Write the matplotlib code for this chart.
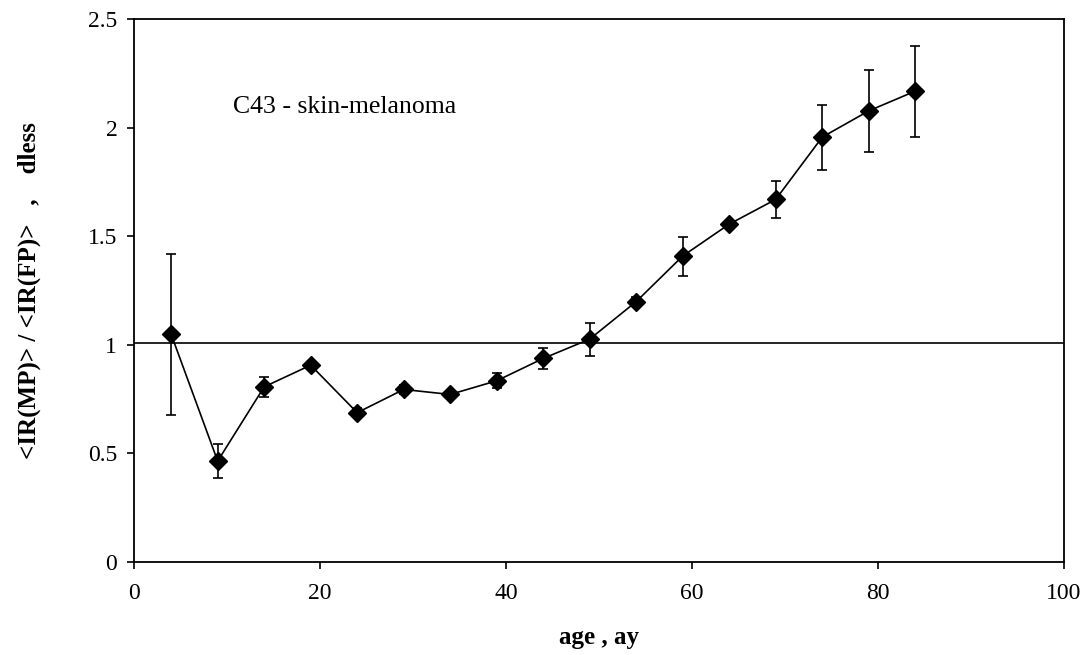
import matplotlib
matplotlib.use("Agg")
import matplotlib.pyplot as plt

# data
age = [4, 9, 14, 19, 24, 29, 34, 39, 44, 49, 54, 59, 64, 69, 74, 79, 84]
ratio = [1.048, 0.464, 0.806, 0.906, 0.687, 0.794, 0.771, 0.834, 0.937,
         1.026, 1.199, 1.409, 1.556, 1.670, 1.957, 2.078, 2.169]
err = [0.372, 0.078, 0.047, 0.01, 0.02, 0.02, 0.01, 0.035, 0.049,
       0.076, 0.02, 0.09, 0.015, 0.085, 0.15, 0.19, 0.21]
ref_level = 1.01

plt.rcParams["font.family"] = ["Liberation Serif", "DejaVu Serif"]

fig = plt.figure(figsize=(10.9, 6.55), dpi=100)
ax = fig.add_axes([0.1229, 0.1424, 0.8533, 0.8281])

ax.plot([0, 100], [ref_level, ref_level], color="black", lw=1.2)
ax.errorbar(age, ratio, yerr=err, color="black", lw=1.2, marker="D", ms=9.5,
            elinewidth=1.2, capsize=3.5, capthick=1.2)

ax.text(10.6, 2.095, "C43 - skin-melanoma", fontsize=18.5, va="center", ha="left")

ax.set_xlim(0, 100)
ax.set_ylim(0, 2.5)
ax.set_xticks([0, 20, 40, 60, 80, 100])
ax.set_yticks([0, 0.5, 1, 1.5, 2, 2.5])
ax.set_yticklabels(["0", "0.5", "1", "1.5", "2", "2.5"])
ax.tick_params(direction="out", length=5, width=1.2, labelsize=17)
ax.tick_params(axis="x", pad=10)
ax.tick_params(axis="y", pad=7)
for s in ax.spines.values():
    s.set_linewidth(1.3)

ax.set_xlabel("age , ay", fontsize=18, fontweight="bold", labelpad=16)
ax.set_ylabel("<IR(MP)> / <IR(FP)>   ,    dless", fontsize=18,
              fontweight="bold", labelpad=34)

fig.savefig("out.png", dpi=100)
